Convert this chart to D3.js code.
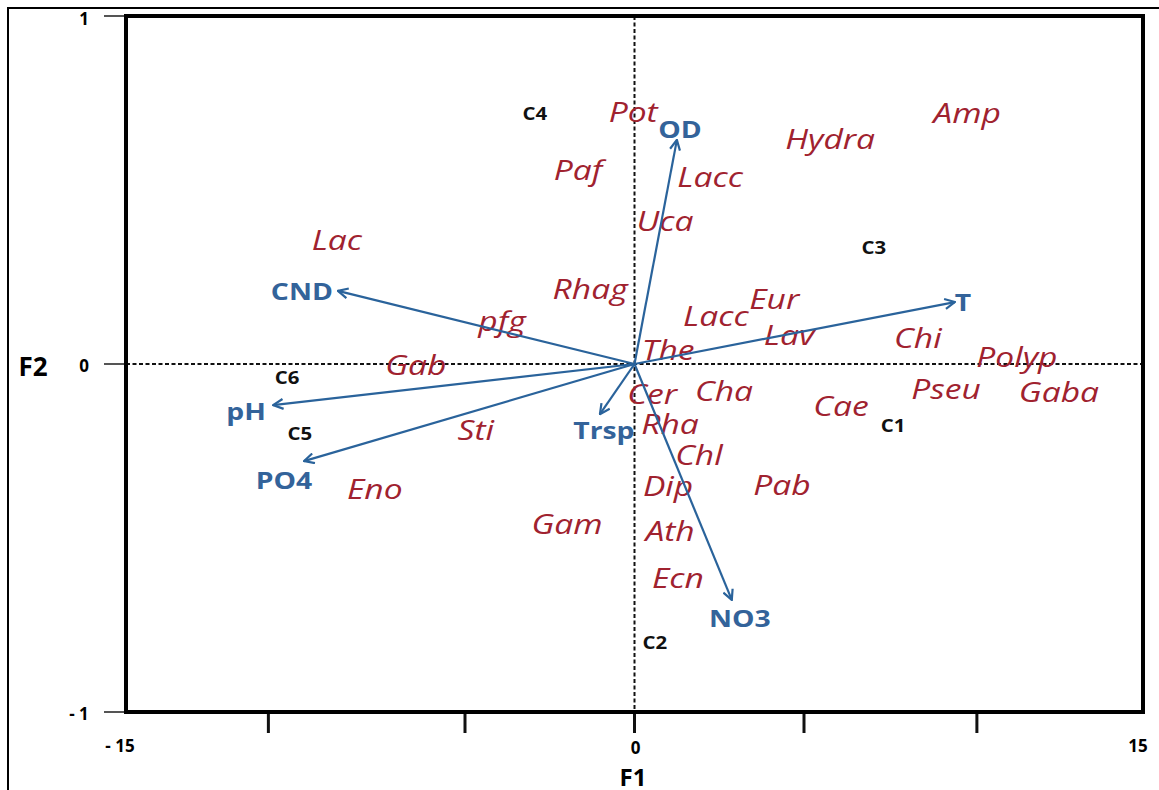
<!DOCTYPE html>
<html>
<head>
<meta charset="utf-8">
<script src="https://cdn.jsdelivr.net/npm/d3@7"></script>
<style>
  body { margin: 0; background: #fff; }
  svg { display: block; }
</style>
</head>
<body>
<svg></svg>
<script>
// Define variables
const width = 1159;
const height = 790;

// species scores (F1, F2)
const species = ['Pot', 'Paf', 'Lacc', 'Uca', 'Hydra', 'Amp', 'Lac', 'Rhag', 'pfg', 'Gab',
                 'Lacc', 'Eur', 'Lav', 'The', 'Cer', 'Cha', 'Rha', 'Chl', 'Dip', 'Pab',
                 'Sti', 'Eno', 'Gam', 'Ath', 'Ecn', 'Chi', 'Polyp', 'Pseu', 'Gaba', 'Cae']
const speciesF1 = [-0.04, -1.67, 2.23, 0.90, 5.77, 9.81, -8.78, -1.31, -3.91, -6.45,
                   2.40, 4.12, 4.56, 0.99, 0.52, 2.64, 1.05, 1.90, 0.99, 4.35,
                   -4.68, -7.66, -1.99, 1.05, 1.28, 8.36, 11.28, 9.19, 12.52, 6.09]
const speciesF2 = [0.727, 0.560, 0.540, 0.414, 0.650, 0.724, 0.359, 0.219, 0.127, 0.000,
                   0.141, 0.190, 0.086, 0.043, -0.083, -0.075, -0.170, -0.258, -0.348, -0.345,
                   -0.187, -0.356, -0.457, -0.477, -0.612, 0.078, 0.023, -0.069, -0.077, -0.118]

// stations
const sites = ['C1', 'C2', 'C3', 'C4', 'C5', 'C6']
const siteF1 = [7.63, 0.60, 7.06, -2.94, -9.87, -10.25]
const siteF2 = [-0.175, -0.799, 0.336, 0.721, -0.198, -0.037]

// environmental variables (arrow tips)
const envVars = ['OD', 'CND', 'pH', 'PO4', 'Trsp', 'T', 'NO3']
const envF1 = [1.25, -8.75, -10.66, -9.75, -1.02, 9.45, 2.87]
const envF2 = [0.644, 0.210, -0.118, -0.279, -0.144, 0.178, -0.678]

// axes
const xTicks = [-10.8, -5, 0, 5, 10.1]
const xTickLabels = [-15, 0, 15]
const yTickLabels = [1, 0, -1]

const svg = d3.select('svg')
                .attr('width', width)
                .attr('height', height)

let xScale = d3.scaleLinear().domain([-15, 15]).range([126, 1143])
let yScale = d3.scaleLinear().domain([-1, 1]).range([712, 16])

const red = '#a0222f'
const blue = '#2a639b'
const blueText = '#33639a'

// outer frame
svg.append('rect')
    .attr('x', 8).attr('y', 8)
    .attr('width', 1170).attr('height', 800)
    .attr('fill', 'none')
    .attr('stroke', '#000')
    .attr('stroke-width', 2)

// zero lines
svg.append('line')
    .attr('x1', xScale(-15)).attr('x2', xScale(15))
    .attr('y1', yScale(0)).attr('y2', yScale(0))
    .attr('stroke', '#111').attr('stroke-width', 2)
    .attr('stroke-dasharray', '4,2.5')
svg.append('line')
    .attr('x1', xScale(0)).attr('x2', xScale(0))
    .attr('y1', yScale(1)).attr('y2', yScale(-1))
    .attr('stroke', '#111').attr('stroke-width', 2)
    .attr('stroke-dasharray', '4,2.5')

// x ticks
svg.selectAll('.xtick')
    .data(xTicks)
    .enter()
    .append('line')
    .attr('class', 'xtick')
    .attr('x1', d => xScale(d)).attr('x2', d => xScale(d))
    .attr('y1', yScale(-1)).attr('y2', yScale(-1) + 21)
    .attr('stroke', '#111').attr('stroke-width', 3)

svg.selectAll('.xlab')
    .data(xTickLabels)
    .enter()
    .append('text')
    .attr('class', 'xlab')
    .attr('x', d => d == -15 ? xScale(d) - 6 : d == 15 ? xScale(d) - 5 : xScale(d) + 1)
    .attr('y', d => d == 0 ? 747 : 745)
    .attr('text-anchor', 'middle')
    .attr('dominant-baseline', 'central')
    .style('font', 'bold 17px "Open Sans"')
    .text(d => d < 0 ? '- ' + Math.abs(d) : d)

// y ticks
svg.selectAll('.ytick')
    .data(yTickLabels)
    .enter()
    .append('line')
    .attr('class', 'ytick')
    .attr('x1', 104).attr('x2', xScale(-15))
    .attr('y1', d => yScale(d)).attr('y2', d => yScale(d))
    .attr('stroke', '#555').attr('stroke-width', 2)

svg.selectAll('.ylab')
    .data(yTickLabels)
    .enter()
    .append('text')
    .attr('class', 'ylab')
    .attr('x', d => d < 0 ? 79 : 84)
    .attr('y', d => d > 0 ? yScale(d) + 2 : yScale(d) + 1)
    .attr('text-anchor', 'middle')
    .attr('dominant-baseline', 'central')
    .style('font', 'bold 17px "Open Sans"')
    .text(d => d < 0 ? '- ' + Math.abs(d) : d)

// axis titles
svg.append('text')
    .attr('x', 633).attr('y', 776)
    .attr('text-anchor', 'middle').attr('dominant-baseline', 'central')
    .style('font', 'bold 24px "Open Sans"')
    .text('F1')
svg.append('text')
    .attr('x', 33).attr('y', 366)
    .attr('text-anchor', 'middle').attr('dominant-baseline', 'central')
    .style('font', 'bold 26px "Open Sans"')
    .text('F2')

// plot box
svg.append('rect')
    .attr('x', xScale(-15)).attr('y', yScale(1))
    .attr('width', xScale(15) - xScale(-15))
    .attr('height', yScale(-1) - yScale(1))
    .attr('fill', 'none')
    .attr('stroke', '#000')
    .attr('stroke-width', 4)

// arrow head
svg.append('defs').append('marker')
    .attr('id', 'head')
    .attr('viewBox', '0 0 12 12')
    .attr('refX', 11).attr('refY', 6)
    .attr('markerWidth', 12).attr('markerHeight', 12)
    .attr('markerUnits', 'userSpaceOnUse')
    .attr('orient', 'auto')
    .append('path')
    .attr('d', 'M1,1 L11,6 L1,11')
    .attr('fill', 'none')
    .attr('stroke', blue)
    .attr('stroke-width', 2.2)

// the source figure's text is stretched horizontally
let stretched = (sel, sx) => sel
    .attr('transform', d => 'translate(' + d.px + ',' + d.py + ') scale(' + sx + ',1)')

// species labels
let speciesData = species.map((s, i) => ({name: s, px: xScale(speciesF1[i]), py: yScale(speciesF2[i])}))
svg.selectAll('.sp')
    .data(speciesData)
    .enter()
    .append('text')
    .attr('class', 'sp')
    .call(stretched, 1.2)
    .attr('text-anchor', 'middle')
    .attr('dominant-baseline', 'central')
    .attr('fill', red)
    .style('font', 'italic 28px "Open Sans"')
    .text(d => d.name)

// sites
let siteData = sites.map((s, i) => ({name: s, px: xScale(siteF1[i]), py: yScale(siteF2[i])}))
svg.selectAll('.site')
    .data(siteData)
    .enter()
    .append('text')
    .attr('class', 'site')
    .call(stretched, 1.2)
    .attr('text-anchor', 'middle')
    .attr('dominant-baseline', 'central')
    .attr('fill', '#111')
    .style('font', 'bold 17px "Open Sans"')
    .text(d => d.name)

// env arrows
let envData = envVars.map((s, i) => ({name: s, x: envF1[i], y: envF2[i]}))
svg.selectAll('.arrow')
    .data(envData)
    .enter()
    .append('line')
    .attr('class', 'arrow')
    .attr('x1', xScale(0)).attr('y1', yScale(0))
    .attr('x2', d => xScale(d.x)).attr('y2', d => yScale(d.y))
    .attr('stroke', blue)
    .attr('stroke-width', 2.2)
    .attr('marker-end', 'url(#head)')

// label offsets from the arrow tips
const labelShift = {OD: [3, -11], CND: [-36, 0], pH: [-27, 6], PO4: [-20, 19],
                    Trsp: [4, 16], T: [8, 0], NO3: [8, 18]}
envData.forEach(d => {
    d.px = xScale(d.x) + labelShift[d.name][0]
    d.py = yScale(d.y) + labelShift[d.name][1]
})
svg.selectAll('.env')
    .data(envData)
    .enter()
    .append('text')
    .attr('class', 'env')
    .call(stretched, 1.18)
    .attr('text-anchor', 'middle')
    .attr('dominant-baseline', 'central')
    .attr('fill', blueText)
    .style('font', 'bold 24px "Open Sans"')
    .text(d => d.name)
</script>
</body>
</html>
